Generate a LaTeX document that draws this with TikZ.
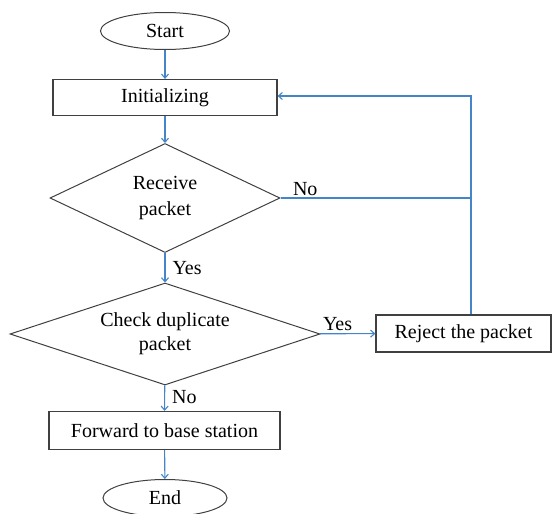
\documentclass[tikz,border=0pt]{standalone}
\usepackage{fontspec}
\setmainfont{Liberation Serif}
\usepackage{tikz}
\usetikzlibrary{calc,positioning,arrows,shapes}
\usetikzlibrary{arrows.meta}
\definecolor{lineblue}{RGB}{68,132,200}
\definecolor{boxgray}{RGB}{64,64,64}
\tikzset{terminal/.style={draw=boxgray,ellipse,line width=1pt,inner sep=0pt,font=\fontsize{20}{24}\selectfont},procbox/.style={draw=boxgray,rectangle,line width=1.2pt,inner sep=0pt,font=\fontsize{20}{24}\selectfont},decision/.style={draw=boxgray,diamond,line width=1pt,inner sep=0pt,align=center,font=\fontsize{20}{24}\selectfont}}

\begin{document}
\begin{tikzpicture}[x=1pt,y=-1pt,>={Straight Barb[length=4pt,width=7pt]},flow/.style={->,draw=lineblue,line width=1.1pt},lbl/.style={font=\fontsize{20}{24}\selectfont,inner sep=0pt}]
			\useasboundingbox (0,0) rectangle (557,514);
			\node[terminal,minimum width=129pt,minimum height=37pt] (start) at (165,31) {Start};
			\node[procbox,minimum width=224pt,minimum height=36pt] (init) at (165,97.5) {Initializing};
			\node[decision,aspect=2.11,minimum width=230pt,minimum height=109pt] (recv) at (165,198) {Receive\\[2pt]packet};
			\node[decision,aspect=3.04,minimum width=310pt,minimum height=102pt] (check) at (165,334) {Check duplicate\\packet};
			\node[procbox,minimum width=175pt,minimum height=37pt] (reject) at (463.5,333.5) {Reject the packet};
			\node[procbox,minimum width=231pt,minimum height=38pt] (fwd) at (164.5,430.5) {Forward to base station};
			\node[terminal,minimum width=124pt,minimum height=37pt] (end) at (165,498) {End};

			\coordinate (join) at (471,198);
			\draw[flow] (start) -- (init);
			\draw[flow] (init) -- (recv);
			\draw[flow] (recv) -- node[lbl,right=7pt,pos=0.5] (yes1) {Yes} (check);
			\draw[flow] (check) -- node[lbl,above=2pt,pos=0.32] (yes2) {Yes} (reject);
			\draw[flow] (check) -- node[lbl,right=7pt,pos=0.45] (no2) {No} (fwd);
			\draw[flow] (fwd) -- (end);
			\draw[draw=lineblue,line width=1.1pt] (recv.east) -- node[lbl,above=2pt,pos=0.13] (no1) {No} (join);
			\draw[flow] ([xshift=7.5pt]reject.north) |- ([yshift=1.5pt]init.east);
		\end{tikzpicture}
\end{document}
